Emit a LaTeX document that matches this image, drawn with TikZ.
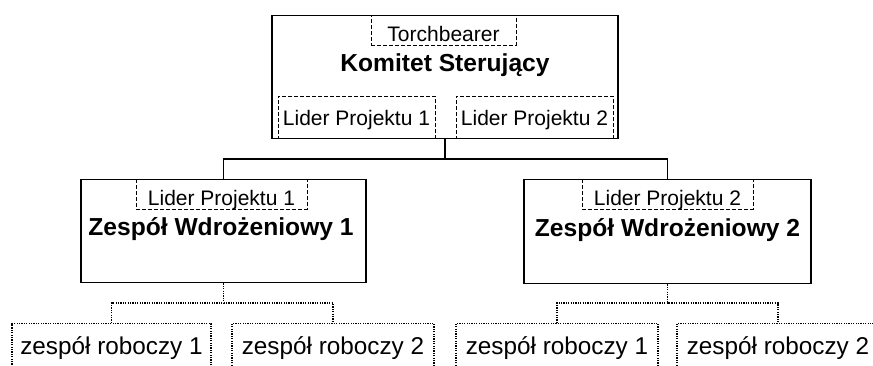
\documentclass[tikz,border=0pt]{standalone}
\usepackage{fontspec}
\setmainfont{Liberation Sans}
\begin{document}
\begin{tikzpicture}[x=1pt,y=-1pt,
  solidbox/.style={draw, line width=1.4pt, inner sep=0pt, anchor=north},
  dashbox/.style={draw, line width=0.9pt, dash pattern=on 4pt off 2pt, inner sep=0pt, anchor=north,
    font=\fontsize{21}{21}\selectfont},
  dotbox/.style={draw, line width=1.1pt, dash pattern=on 1.2pt off 1.2pt, inner sep=0pt, anchor=north,
    font=\fontsize{24.3}{24}\selectfont, text height=30.7pt, text depth=21pt, minimum width=202pt},
  title/.style={font=\bfseries\fontsize{24.6}{25}\selectfont, anchor=base, inner sep=0pt},
  link/.style={line width=1.4pt},
  dotlink/.style={line width=1.1pt, dash pattern=on 1.2pt off 1.2pt}]
\useasboundingbox (0,0) rectangle (873,365);
\clip (0,0) rectangle (873,365);

% steering committee
\node[solidbox, minimum width=346pt, minimum height=123pt] (ks) at (445,15) {};
\node[dashbox, minimum width=145pt, text height=26pt, text depth=4pt] (tb) at (443.5,15) {Torchbearer};
\node[title] (kst) at (445,71) {Komitet Sterujący};
\node[dashbox, minimum width=157pt, text height=29pt, text depth=13pt] (lp1) at (356.5,96) {Lider Projektu 1};
\node[dashbox, minimum width=157pt, text height=29pt, text depth=13pt] (lp2) at (534.5,96) {Lider Projektu 2};

% implementation teams
\node[solidbox, minimum width=285pt, minimum height=103pt] (zw1) at (223.5,179) {};
\node[dashbox, minimum width=171pt, text height=26pt, text depth=4pt] (zl1) at (221.5,179) {Lider Projektu 1};
\node[title] (zt1) at (221,235) {Zespół Wdrożeniowy 1};

\node[solidbox, minimum width=287pt, minimum height=104pt] (zw2) at (667.5,179) {};
\node[dashbox, minimum width=171pt, text height=26pt, text depth=4pt] (zl2) at (667.5,179) {Lider Projektu 2};
\node[title] (zt2) at (667.5,236) {Zespół Wdrożeniowy 2};

% working groups
\node[dotbox, minimum width=199pt] (zr1) at (111.5,323) {zespół roboczy 1};
\node[dotbox] (zr2) at (333,323) {zespół roboczy 2};
\node[dotbox] (zr3) at (557,323) {zespół roboczy 1};
\node[dotbox] (zr4) at (778,323) {zespół roboczy 2};

% connectors
\coordinate (j) at (ks.south |- 0,159);
\draw[link] (ks.south) -- (j);
\draw[link] (zw1.north) |- (j) -| (zw2.north);

\coordinate (b1) at (zw1.south |- 0,303);
\draw[dotlink] (zw1.south) -- (b1);
\draw[dotlink] (zr1.north) |- (b1) -| (zr2.north);

\coordinate (b2) at (zw2.south |- 0,303);
\draw[dotlink] (zw2.south) -- (b2);
\draw[dotlink] (zr3.north) |- (b2) -| (zr4.north);
\end{tikzpicture}
\end{document}
